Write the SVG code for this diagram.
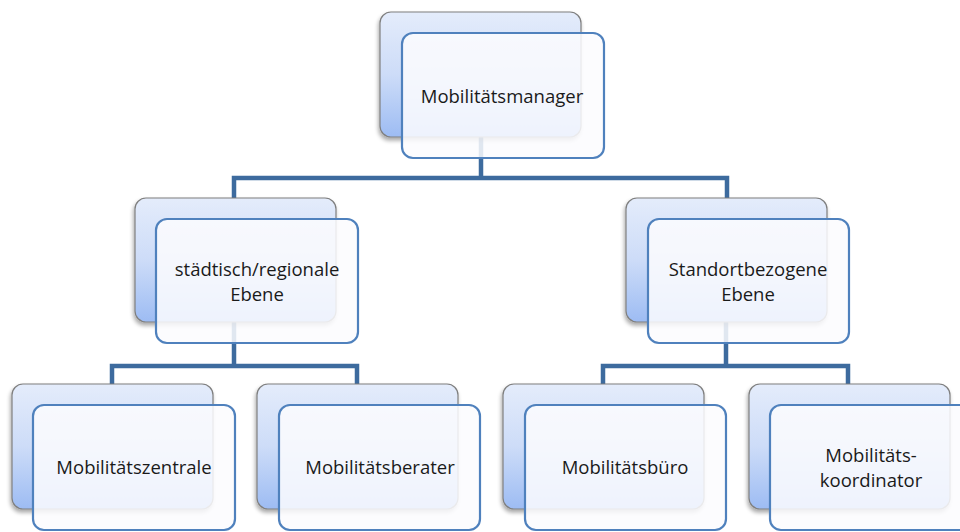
<svg xmlns="http://www.w3.org/2000/svg" width="960" height="532" viewBox="0 0 960 532">
<style>
.back{fill:url(#g);stroke:#7f7f7f;stroke-width:1.2;filter:url(#sh)}
.front{fill:#fbfcfe;fill-opacity:0.86;stroke:#4f81bd;stroke-width:2.2}
.conn{fill:none;stroke:#3d6b9e;stroke-width:4.5;stroke-linejoin:miter}
text{font-family:"Open Sans","Liberation Sans",sans-serif;font-size:18.5px;fill:#1a1a1a;text-anchor:middle}
</style>
<defs>
<linearGradient id="g" x1="0" y1="0" x2="0" y2="1">
<stop offset="0" stop-color="#e4ecfb"/>
<stop offset="0.5" stop-color="#cddcf8"/>
<stop offset="1" stop-color="#9dbcf3"/>
</linearGradient>
<filter id="sh" x="-10%" y="-10%" width="125%" height="125%">
<feGaussianBlur in="SourceAlpha" stdDeviation="2"/>
<feOffset dx="-1" dy="3" result="b"/>
<feComponentTransfer><feFuncA type="linear" slope="0.35"/></feComponentTransfer>
<feMerge><feMergeNode/><feMergeNode in="SourceGraphic"/></feMerge>
</filter>
</defs>
<g id="connectors">
<path class="conn" d="M481,137 V178 M234,198 V178 H727 V198"/>
<path class="conn" d="M234,322 V366 M112,384 V366 H357 V384"/>
<path class="conn" d="M726,322 V366 M603,384 V366 H848 V384"/>
</g>
<g id="n-manager">
<rect class="back" x="380" y="12" width="201" height="125" rx="11"/>
<rect class="front" x="402" y="33" width="202" height="125" rx="11"/>
<text x="502" y="103">Mobilitätsmanager</text>
</g>
<g id="n-staedtisch">
<rect class="back" x="135" y="198" width="201" height="124" rx="11"/>
<rect class="front" x="156" y="219" width="202" height="124" rx="11"/>
<text x="257" y="276">städtisch/regionale</text>
<text x="257" y="301">Ebene</text>
</g>
<g id="n-standort">
<rect class="back" x="626" y="198" width="201" height="124" rx="11"/>
<rect class="front" x="648" y="219" width="201" height="124" rx="11"/>
<text x="748" y="276">Standortbezogene</text>
<text x="748" y="301">Ebene</text>
</g>
<g id="n-zentrale">
<rect class="back" x="12" y="384" width="201" height="125" rx="11"/>
<rect class="front" x="33" y="405" width="202" height="125" rx="11"/>
<text x="134" y="474">Mobilitätszentrale</text>
</g>
<g id="n-berater">
<rect class="back" x="257" y="384" width="201" height="125" rx="11"/>
<rect class="front" x="279" y="405" width="201" height="125" rx="11"/>
<text x="380" y="474">Mobilitätsberater</text>
</g>
<g id="n-buero">
<rect class="back" x="503" y="384" width="201" height="125" rx="11"/>
<rect class="front" x="525" y="405" width="201" height="125" rx="11"/>
<text x="625" y="474">Mobilitätsbüro</text>
</g>
<g id="n-koordinator">
<rect class="back" x="749" y="384" width="201" height="125" rx="11"/>
<rect class="front" x="770" y="405" width="202" height="125" rx="11"/>
<text x="871" y="462">Mobilitäts-</text>
<text x="871" y="487">koordinator</text>
</g>
</svg>
